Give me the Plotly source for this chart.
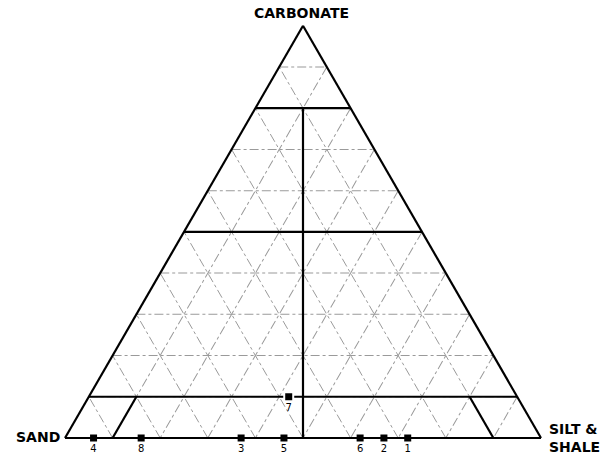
import plotly.graph_objects as go

# Sample compositions (percent): carbonate, sand, silt & shale
sample_ids = ["4", "8", "3", "5", "6", "2", "1", "7"]
carbonate = [0, 0, 0, 0, 0, 0, 0, 10]
sand = [94, 84, 63, 54, 38, 33, 28, 48]
silt_shale = [6, 16, 37, 46, 62, 67, 72, 42]

# Classification boundaries (carbonate, sand, silt & shale)
boundaries = [
    ([10, 10], [90, 0], [0, 90]),      # 10 % carbonate
    ([50, 50], [50, 0], [0, 50]),      # 50 % carbonate
    ([80, 80], [20, 0], [0, 20]),      # 80 % carbonate
    ([0, 80], [50, 10], [50, 10]),     # sand = silt & shale
    ([0, 10], [90, 80], [10, 10]),     # 10 % silt & shale, low carbonate
    ([0, 10], [10, 10], [90, 80]),     # 10 % sand, low carbonate
]

LABEL_FONT = "DejaVu Sans, Liberation Sans, Arial"

fig = go.Figure()

for a, b, c in boundaries:
    fig.add_trace(go.Scatterternary(
        a=a, b=b, c=c, mode="lines",
        line=dict(color="black", width=2.2),
        hoverinfo="skip", showlegend=False,
    ))

fig.add_trace(go.Scatterternary(
    a=carbonate, b=sand, c=silt_shale,
    mode="markers+text",
    text=sample_ids,
    textposition="bottom center",
    textfont=dict(family=LABEL_FONT, size=10, color="black"),
    marker=dict(symbol="square", size=9, color="black",
                line=dict(color="white", width=2)),
    cliponaxis=False,
    showlegend=False,
))

axis_common = dict(
    showticklabels=False, ticks="", title=dict(text=""),
    linecolor="black", linewidth=2.2,
    showgrid=True, gridcolor="#9a9a9a", gridwidth=1, griddash="dashdot",
    dtick=10, tick0=0, min=0,
)

fig.update_layout(
    width=606, height=456,
    margin=dict(l=0, r=0, t=0, b=0),
    paper_bgcolor="white",
    ternary=dict(
        sum=100,
        bgcolor="white",
        domain=dict(x=[65 / 606, 541 / 606], y=[0.038, 0.945]),
        aaxis=axis_common,
        baxis=axis_common,
        caxis=axis_common,
    ),
    font=dict(family=LABEL_FONT, color="black"),
    annotations=[
        dict(text="<b>CARBONATE</b>", x=301 / 606, y=1 - 13 / 456, xref="paper", yref="paper",
             showarrow=False, font=dict(size=14), xanchor="center", yanchor="middle"),
        dict(text="<b>SAND</b>", x=62 / 606, y=1 - 437 / 456, xref="paper", yref="paper",
             showarrow=False, font=dict(size=14), xanchor="right", yanchor="middle"),
        dict(text="<b>SILT &amp;<br>SHALE</b>", x=547 / 606, y=1 - 438 / 456, xref="paper", yref="paper",
             showarrow=False, font=dict(size=14), xanchor="left", yanchor="middle",
             align="left"),
    ],
)

fig.write_html("out.html")
